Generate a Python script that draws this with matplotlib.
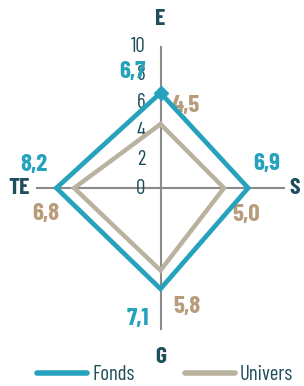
import matplotlib
matplotlib.use('Agg')
import matplotlib.pyplot as plt

# données
axes_noms = ['E', 'S', 'G', 'TE']
fonds = [6.7, 6.9, 7.1, 8.2]
univers = [4.5, 5.0, 5.8, 6.8]
graduations = [0, 2, 4, 6, 8, 10]

bleu = '#27a2bd'
beige = '#b9b29f'
beige_txt = '#b89d7c'
fonce = '#1e4d5c'
gris = '#8a8a8a'

plt.rcParams['font.family'] = ['Barlow Condensed', 'DejaVu Sans']

# direction de chaque axe (haut, droite, bas, gauche)
dirs = [(0, 1), (1, 0), (0, -1), (-1, 0)]

def coords(vals):
    xs = [d[0] * v for d, v in zip(dirs, vals)]
    ys = [d[1] * v for d, v in zip(dirs, vals)]
    return xs + xs[:1], ys + ys[:1]

fig = plt.figure(figsize=(3.04, 3.86), dpi=100)
ax = fig.add_axes([0, 0, 1, 1])
ax.set_xlim(-12.64, 11.30)
ax.set_ylim(-13.94, 13.24)
ax.axis('off')

# axes en croix
ax.plot([0, 0], [-9.9, 9.9], color=gris, lw=1.5, zorder=1)
ax.plot([-9.7, 9.7], [0, 0], color=gris, lw=1.5, zorder=1)

for g in graduations:
    ax.text(-1.2, g, str(g), ha='right', va='center', fontsize=15,
            color=fonce, zorder=2)

# séries
xu, yu = coords(univers)
ax.plot(xu, yu, color=beige, lw=3.2, solid_joinstyle='miter', zorder=3,
        label='Univers')
xf, yf = coords(fonds)
ax.plot(xf, yf, color=bleu, lw=3.4, solid_joinstyle='miter', zorder=4,
        label='Fonds')
ax.plot([0], [fonds[0]], marker='D', ms=7, color=bleu, zorder=5)

# noms des axes
pos_noms = [(0, 11.9), (10.6, 0), (0, -11.9), (-11.1, 0)]
for n, (x, y) in zip(axes_noms, pos_noms):
    ax.text(x, y, n, ha='center', va='center', fontsize=17,
            fontweight='bold', color=fonce)

# étiquettes de valeurs
pos_fonds = [(-2.2, 8.2), (8.4, 1.7), (-1.8, -9.2), (-10.0, 1.6)]
pos_univ = [(2.0, 5.8), (6.7, -1.9), (2.1, -8.4), (-9.0, -1.8)]
for v, (x, y) in zip(fonds, pos_fonds):
    ax.text(x, y, f'{v:.1f}'.replace('.', ','), ha='center', va='center',
            fontsize=18, fontweight='bold', color=bleu)
for v, (x, y) in zip(univers, pos_univ):
    ax.text(x, y, f'{v:.1f}'.replace('.', ','), ha='center', va='center',
            fontsize=18, fontweight='bold', color=beige_txt)

h, l = ax.get_legend_handles_labels()
leg = fig.legend(h[::-1], l[::-1], loc='center', ncol=2, frameon=False,
                 bbox_to_anchor=(0.543, 0.03), handlelength=2.4,
                 handletextpad=0.25, columnspacing=2.4, fontsize=15,
                 borderpad=0, borderaxespad=0)
for t in leg.get_texts():
    t.set_color(fonce)
for ln in leg.get_lines():
    ln.set_linewidth(4)
    ln.set_solid_capstyle('round')

fig.savefig('out.png', dpi=100)
